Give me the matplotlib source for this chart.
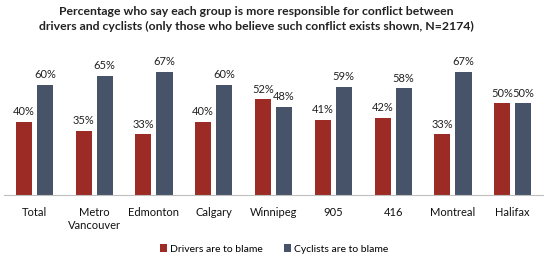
import numpy as np
import matplotlib
matplotlib.use('Agg')
from matplotlib import pyplot as plt

categories = ['Total', 'Metro\nVancouver', 'Edmonton', 'Calgary', 'Winnipeg',
              '905', '416', 'Montreal', 'Halifax']
drivers = [40, 35, 33, 40, 52, 41, 42, 33, 50]
cyclists = [60, 65, 67, 60, 48, 59, 58, 67, 50]

RED = '#9B2B24'
BLUE = '#465368'

plt.rcParams['font.family'] = ['Lato', 'DejaVu Sans']

fig = plt.figure(figsize=(5.52, 2.59), dpi=100)
ax = fig.add_axes([0.008, 1 - 195 / 259, 0.975, 135 / 259])

x = np.arange(len(categories))
w = 0.27
off = 0.176
b1 = ax.bar(x - off, drivers, w, color=RED, label='Drivers are to blame')
b2 = ax.bar(x + off, cyclists, w, color=BLUE, label='Cyclists are to blame')

for bars, vals in [(b1, drivers), (b2, cyclists)]:
    for b, v in zip(bars, vals):
        ax.text(b.get_x() + b.get_width() / 2, v + 2.5, f'{v}%',
                ha='center', va='bottom', fontsize=8, color='#222222')

ax.set_xlim(-0.5, len(categories) - 0.5)
ax.set_ylim(0, 73.5)
ax.set_yticks([])
ax.set_xticks(x)
ax.set_xticklabels(categories, fontsize=8, color='#111111')
ax.tick_params(axis='x', length=0, pad=9)
for s in ['top', 'right', 'left']:
    ax.spines[s].set_visible(False)
ax.spines['bottom'].set_color('#BFBFBF')

fig.text(0.464, 0.975, 'Percentage who say each group is more responsible for conflict between\n'
         'drivers and cyclists (only those who believe such conflict exists shown, N=2174)',
         ha='center', va='top', fontsize=8.8, fontweight='bold', color='#222222',
         linespacing=1.35)

fig.legend(loc='lower center', bbox_to_anchor=(0.497, -0.015), ncol=2, frameon=False,
           fontsize=7.5, handlelength=0.7, handleheight=0.7, columnspacing=2.0,
           handletextpad=0.3)

fig.savefig('out.png', dpi=100)
